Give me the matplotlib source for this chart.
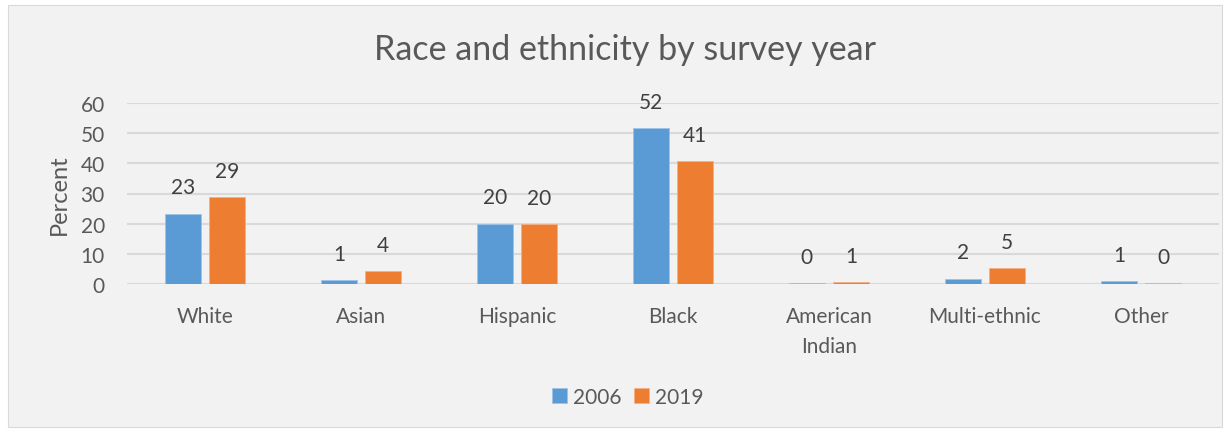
import matplotlib
matplotlib.use("Agg")
import matplotlib.pyplot as plt
import numpy as np
from matplotlib.patches import Rectangle

categories = ["White", "Asian", "Hispanic", "Black", "American\nIndian", "Multi-ethnic", "Other"]
years = ["2006", "2019"]
values_2006 = [23.3, 1.3, 20.0, 51.6, 0.3, 1.8, 1.0]
values_2019 = [28.7, 4.2, 19.8, 40.8, 0.6, 5.2, 0.3]
yticks = [0, 10, 20, 30, 40, 50, 60]

plt.rcParams['font.family'] = ['Lato', 'DejaVu Sans']

W, H = 1232, 431
fig = plt.figure(figsize=(W / 100, H / 100), dpi=100)
fig.patch.set_facecolor("white")
fig.add_artist(Rectangle((8 / W, 1 - 428 / H), (1222 - 8) / W, (428 - 6) / H,
                         transform=fig.transFigure, facecolor="#f2f2f2",
                         edgecolor="#d9d9d9", linewidth=0.8, zorder=0))

left, right = 127 / W, 1219 / W
bottom, top = 1 - 285 / H, 1 - 104 / H
ax = fig.add_axes([left, bottom, right - left, top - bottom])
ax.set_facecolor("none")

x = np.arange(len(categories))
bw = 0.23
off = 0.142
colors = ["#5b9bd5", "#ed7d31"]
b1 = ax.bar(x - off, values_2006, bw, color=colors[0], label=years[0], zorder=3,
            edgecolor="#9dc3e6", linewidth=0.6)
b2 = ax.bar(x + off, values_2019, bw, color=colors[1], label=years[1], zorder=3,
            edgecolor="#f4b183", linewidth=0.6)

for bars, vals in ((b1, values_2006), (b2, values_2019)):
    for rect, v in zip(bars, vals):
        ax.annotate(f"{round(v):d}", (rect.get_x() + rect.get_width() / 2, v),
                    xytext=(0, 19), textcoords="offset points", ha="center",
                    va="center", fontsize=15, color="#404040")

ax.set_xlim(-0.5, len(categories) - 0.5)
ax.set_ylim(0, 60)
ax.set_yticks(yticks)
ax.yaxis.grid(True, color="#d9d9d9", linewidth=1.5, zorder=0)
ax.set_axisbelow(True)
for s in ax.spines.values():
    s.set_visible(False)
ax.tick_params(axis="both", length=0, labelsize=15, colors="#595959")
ax.tick_params(axis="y", pad=16)
ax.tick_params(axis="x", pad=16)
ax.set_xticks(x)
ax.set_xticklabels(categories, linespacing=1.6)

ax.set_ylabel("Percent", fontsize=17, color="#595959", labelpad=8)
fig.text(625 / W, 1 - 50 / H, "Race and ethnicity by survey year", ha="center",
         va="center", fontsize=24.5, color="#595959")

leg = fig.legend(loc="center", bbox_to_anchor=(628 / W, 1 - 398 / H), ncol=2,
                 frameon=False, fontsize=15, handlelength=0.7, handleheight=0.7,
                 handletextpad=0.3, columnspacing=0.6)
for t in leg.get_texts():
    t.set_color("#595959")

fig.savefig("out.png", dpi=100, facecolor=fig.get_facecolor())
